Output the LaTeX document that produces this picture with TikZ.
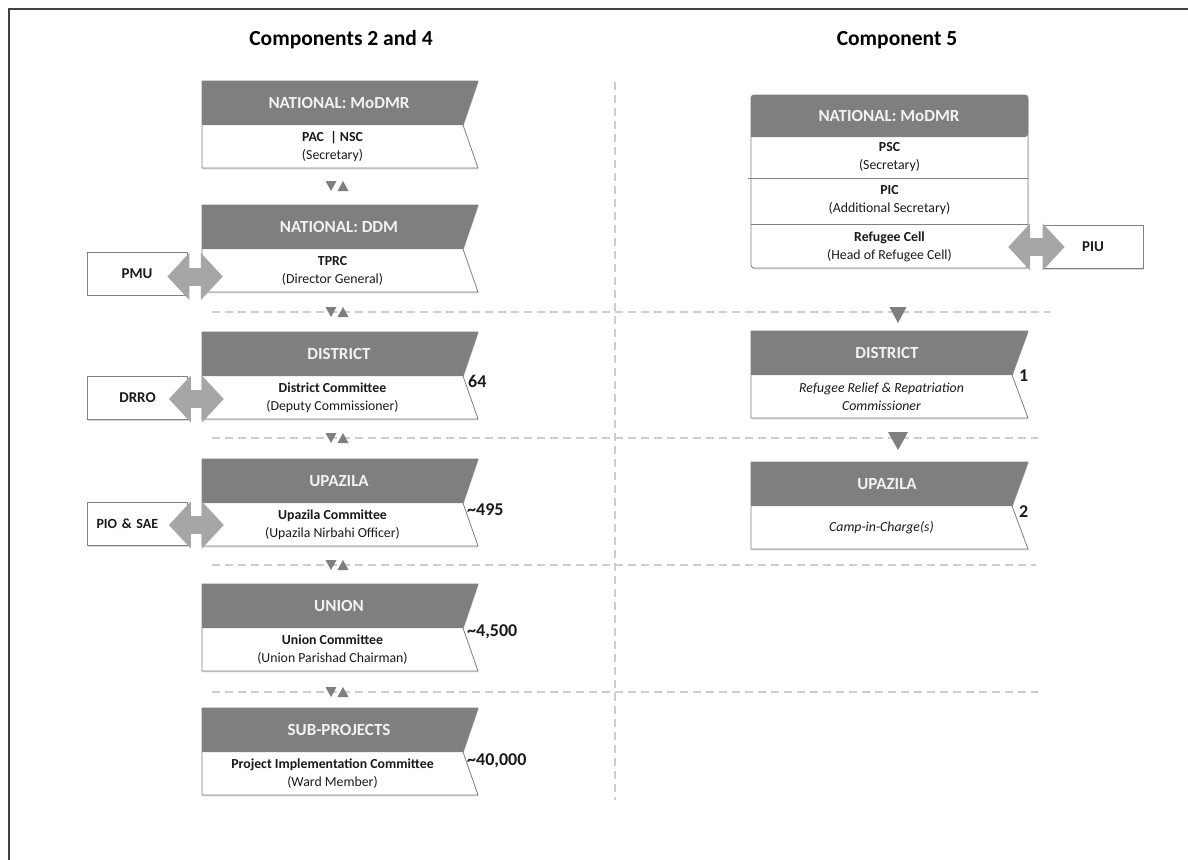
\documentclass[tikz,border=0pt]{standalone}
\usepackage{fontspec}
\setmainfont{Carlito}
\usetikzlibrary{arrows.meta,shadows}
\definecolor{hdr}{HTML}{7F7F7F}
\definecolor{hdrtxt}{HTML}{F2F2F2}
\definecolor{bline}{HTML}{808080}
\definecolor{agray}{HTML}{A6A6A6}
\definecolor{dgray}{HTML}{CDCDCD}
\definecolor{framec}{HTML}{404040}
\definecolor{txt}{HTML}{1A1A1A}

\tikzset{
  tierline/.style={draw=bline, line width=0.8pt, fill=white, drop shadow={shadow xshift=0.6pt, shadow yshift=-1.4pt, opacity=0.3}},
  hdrtext/.style={text=hdrtxt, font=\fontsize{17}{20}\selectfont\bfseries, inner sep=0pt},
  bodytext/.style={text=txt, font=\fontsize{13.8}{18}\selectfont, align=center, inner sep=0pt},
  sidebox/.style={draw=bline, line width=0.8pt, fill=white, minimum width=100pt, minimum height=43pt, font=\fontsize{15}{18}\selectfont\bfseries, text=txt, inner sep=0pt, drop shadow={shadow xshift=0.6pt, shadow yshift=-1.4pt, opacity=0.3}},
  bigarrow/.style={draw=agray, line width=18pt, {Triangle[width=46pt,length=22pt]}-{Triangle[width=46pt,length=22pt]}},
  sepline/.style={draw=dgray, line width=1.5pt, dash pattern=on 8pt off 5pt},
  countlbl/.style={font=\fontsize{18}{21}\selectfont\bfseries, text=txt, anchor=west, inner sep=0pt},
  titlelbl/.style={font=\fontsize{21.5}{25}\selectfont\bfseries, text=black, inner sep=0pt},
  trifill/.style={fill=hdr}
}

\newcommand\lefttier[4]{%
  \path[tierline] (202,#2) -- (478,#2) -- (463,{#2+44}) -- (478,{#2+87}) -- (202,{#2+87}) -- cycle;
  \fill[hdr] (202,#2) -- (478,#2) -- (463,{#2+44}) -- (202,{#2+44}) -- cycle;
  \node[hdrtext] (#1h) at (339,{#2+22}) {#3};
  \node[bodytext, minimum width=261pt, minimum height=43pt] (#1) at (332.5,{#2+65.5}) {#4};
}
\newcommand\righttier[4]{%
  \path[tierline] (751,#2) -- (1028,#2) -- (1012,{#2+44}) -- (1028,{#2+87}) -- (751,{#2+87}) -- cycle;
  \fill[hdr] (751,#2) -- (1028,#2) -- (1012,{#2+44}) -- (751,{#2+44}) -- cycle;
  \node[hdrtext] (#1h) at (887,{#2+22}) {#3};
  \node[bodytext, minimum width=261pt, minimum height=43pt] (#1) at (881.5,{#2+65.5}) {#4};
}
\newcommand\downtri[4]{\fill[trifill] ({#1-#3/2},{#2-#4/2}) -- ({#1+#3/2},{#2-#4/2}) -- (#1,{#2+#4/2}) -- cycle;}
\newcommand\uptri[4]{\fill[trifill] ({#1-#3/2},{#2+#4/2}) -- ({#1+#3/2},{#2+#4/2}) -- (#1,{#2-#4/2}) -- cycle;}

\begin{document}
\begin{tikzpicture}[x=1pt,y=-1pt]
\useasboundingbox (0,0) rectangle (1188,859);
\fill[white] (0,0) rectangle (1188,859);
\draw[framec, line width=2.2pt] (9,861) -- (9,9) -- (1190,9);

% titles
\node[titlelbl] (t1) at (341,40) {Components 2 and 4};
\node[titlelbl] (t2) at (897,40) {Component 5};

% separators
\draw[sepline] (615,82) -- (615,800);
\draw[sepline] (212,312) -- (1050,312);
\draw[sepline] (212,438) -- (1038,438);
\draw[sepline] (212,565) -- (1036,565);
\draw[sepline] (212,692) -- (1038,692);

% left column
\lefttier{mo}{81}{NATIONAL: MoDMR}{\textbf{PAC\ \ | NSC}\\(Secretary)}
\lefttier{ddm}{205}{NATIONAL: DDM}{\textbf{TPRC}\\(Director General)}
\lefttier{dis}{332}{DISTRICT}{\textbf{District Committee}\\(Deputy Commissioner)}
\lefttier{upa}{459}{UPAZILA}{\textbf{Upazila Committee}\\(Upazila Nirbahi Officer)}
\lefttier{uni}{584}{UNION}{\textbf{Union Committee}\\(Union Parishad Chairman)}
\lefttier{sub}{708}{SUB-PROJECTS}{\textbf{Project Implementation Committee}\\(Ward Member)}

\node[countlbl] (c1) at (468,381) {64};
\node[countlbl] (c2) at (467,510) {\textasciitilde495};
\node[countlbl] (c3) at (467,632) {\textasciitilde4,500};
\node[countlbl] (c4) at (467,761) {\textasciitilde40,000};

% side boxes
\node[sidebox] (pmu) at (137,273.5) {PMU};
\node[sidebox] (drro) at (137.5,398) {DRRO};
\node[sidebox, font=\fontsize{14}{16}\selectfont\bfseries, text width=82pt, align=left, inner xsep=9pt] (pio) at (137.5,524) {PIO \& SAE};
\draw[bigarrow, shorten <=-20pt, shorten >=-21pt] ([yshift=-3pt]pmu.east) -- ([yshift=-3pt]pmu.east -| ddm.west);
\draw[bigarrow, shorten <=-19pt, shorten >=-22pt] ([yshift=-1pt]drro.east) -- ([yshift=-1pt]drro.east -| dis.west);
\draw[bigarrow, shorten <=-19pt, shorten >=-22pt] ([yshift=-1pt]pio.east) -- ([yshift=-1pt]pio.east -| upa.west);

% left markers
\foreach \yy in {186,312,438,565,692}{
  \downtri{331}{\yy}{11}{10}
  \uptri{343}{\yy}{11}{10}
}

% right column national box
\path[tierline, rounded corners=3pt] (751,95) rectangle (1028,268);
\fill[hdr, rounded corners=3pt] (751,137) -- (751,95) -- (1028,95) -- (1028,137) [sharp corners] -- cycle;
\node[hdrtext] (r1h) at (889,116) {NATIONAL: MoDMR};
\draw[bline, line width=0.8pt] (748,178) -- (1028,178);
\draw[bline, line width=0.8pt] (751,224) -- (1028,224);
\node[bodytext] (psc) at (889.5,157) {\textbf{PSC}\\(Secretary)};
\node[bodytext] (pic) at (889.5,200.5) {\textbf{PIC}\\(Additional Secretary)};
\node[bodytext, minimum width=277pt, minimum height=44pt] (rc) at (889.5,246.5) {\textbf{Refugee Cell}\\(Head of Refugee Cell)};
\node[sidebox] (piu) at (1093,247) {PIU};
\draw[bigarrow, shorten <=-22pt, shorten >=-20pt] (piu.west) -- (piu.west -| rc.east);

\righttier{rdis}{331}{DISTRICT}{\textit{Refugee Relief \& Repatriation}\\\textit{Commissioner}}
\righttier{rupa}{462}{UPAZILA}{\textit{Camp-in-Charge(s)}}
\node[countlbl] (c5) at (1019,376) {1};
\node[countlbl] (c6) at (1019,512) {2};

\downtri{898}{315}{17}{16}
\downtri{898}{441}{20}{18}
\end{tikzpicture}
\end{document}
